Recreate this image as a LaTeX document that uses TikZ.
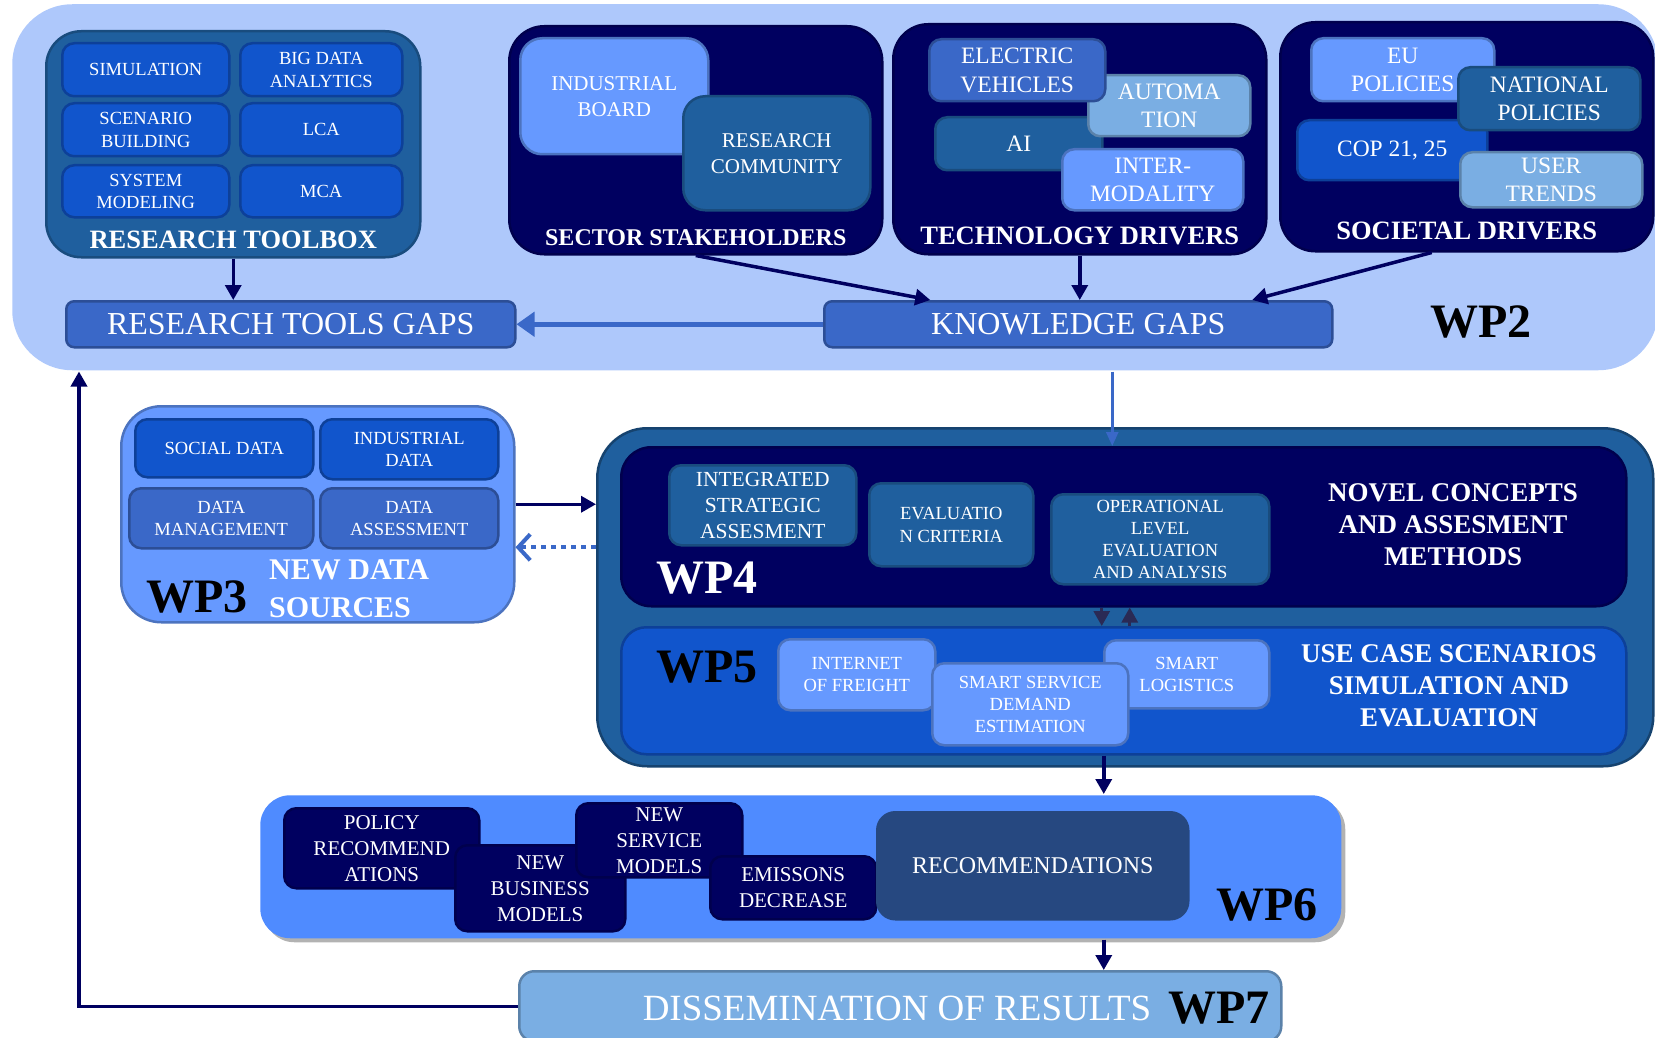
\documentclass[tikz,border=0pt]{standalone}
\usepackage{fontspec}
\setmainfont{Liberation Serif}
\usetikzlibrary{positioning,arrows.meta,shadows}

\definecolor{wptwo}{RGB}{174,200,251}
\definecolor{steel}{RGB}{31,95,158}
\definecolor{royal}{RGB}{17,85,204}
\definecolor{navy}{RGB}{0,0,96}
\definecolor{midblue}{RGB}{58,104,200}
\definecolor{lightblue}{RGB}{102,153,255}
\definecolor{skyblue}{RGB}{122,174,227}
\definecolor{wpsix}{RGB}{79,139,255}
\definecolor{recomblue}{RGB}{38,72,128}
\definecolor{slate}{RGB}{42,42,85}

\begin{document}
\begin{tikzpicture}[x=1pt, y=-1pt, node distance=2pt,
    box/.style={rectangle, rounded corners=12pt, line width=2.5pt, text=white, align=center, inner sep=0pt, anchor=north west},
    steelbox/.style={box, fill=steel, draw=steel!80!black},
    royalbox/.style={box, fill=royal, draw=royal!75!black},
    navybox/.style={box, fill=navy, draw=navy!80!black},
    midbox/.style={box, fill=midblue, draw=midblue!75!black},
    lightbox/.style={box, fill=lightblue, draw=lightblue!75!black},
    skybox/.style={box, fill=skyblue, draw=skyblue!75!black},
    fsmall/.style={font=\fontsize{18.5}{22.5}\selectfont},
    fmid/.style={font=\fontsize{21}{26}\selectfont},
    fbig/.style={font=\fontsize{23.5}{28.5}\selectfont},
    grouplabel/.style={text=white, align=center, inner sep=0pt, font=\fontsize{26.5}{32}\selectfont\bfseries},
    wplabel/.style={inner sep=0pt, font=\fontsize{48}{48}\selectfont\bfseries},
    arr/.style={draw=navy, line width=3.5pt, -{Triangle[length=15pt,width=16pt]}}]
    \useasboundingbox (0,0) rectangle (1655,1038);
    \clip (0,0) rectangle (1655,1038);
    \fill[white] (0,0) rectangle (1655,1038);

    % WP2
    \node[box, fill=wptwo, draw=none, rounded corners=60pt, minimum width=1646, minimum height=366] (wp2) at (11,3) {};
    \node[steelbox, rounded corners=35pt, minimum width=374, minimum height=226] (toolbox) at (45,30) {};
    \node[royalbox, fsmall, minimum width=167, minimum height=53] (simulation) at (61,42) {SIMULATION};
    \node[royalbox, fsmall, minimum width=162, minimum height=53] (bigdata) at (239,42) {BIG DATA\\ANALYTICS};
    \node[royalbox, fsmall, minimum width=167, minimum height=53] (scenario) at (61,102) {SCENARIO\\BUILDING};
    \node[royalbox, fsmall, minimum width=162, minimum height=53] (lca) at (239,102) {LCA};
    \node[royalbox, fsmall, minimum width=167, minimum height=52] (sysmodel) at (61,164) {SYSTEM\\MODELING};
    \node[royalbox, fsmall, minimum width=162, minimum height=52] (mca) at (239,164) {MCA};
    \node[grouplabel, above=10pt of toolbox.south] (toolboxlbl) {RESEARCH TOOLBOX};

    \node[navybox, rounded corners=35pt, minimum width=373, minimum height=228] (sector) at (508,25) {};
    \node[lightbox, fmid, rounded corners=22pt, minimum width=188, minimum height=116] (indboard) at (519,37) {INDUSTRIAL\\BOARD};
    \node[steelbox, fmid, rounded corners=22pt, minimum width=187, minimum height=114] (rescomm) at (682,95) {RESEARCH\\COMMUNITY};
    \node[grouplabel, font=\fontsize{24}{28}\selectfont\bfseries, above=10pt of sector.south] (sectorlbl) {SECTOR STAKEHOLDERS};

    \node[navybox, rounded corners=35pt, minimum width=373, minimum height=230] (tech) at (892,23) {};
    \node[steelbox, fbig, minimum width=167, minimum height=53] (ai) at (934,116) {AI};
    \node[skybox, fbig, minimum width=162, minimum height=61] (automation) at (1087,74) {AUTOMA\\TION};
    \node[midbox, fbig, minimum width=176, minimum height=62] (electric) at (928,38) {ELECTRIC\\VEHICLES};
    \node[lightbox, fbig, minimum width=181, minimum height=61] (intermodal) at (1061,148) {INTER-\\MODALITY};
    \node[grouplabel, above=10pt of tech.south] (techlbl) {TECHNOLOGY DRIVERS};

    \node[navybox, rounded corners=35pt, minimum width=373, minimum height=229] (soc) at (1279,21) {};
    \node[lightbox, fbig, minimum width=183, minimum height=63] (eupol) at (1310,37) {EU\\POLICIES};
    \node[royalbox, fbig, minimum width=190, minimum height=60] (cop) at (1296,119) {COP 21, 25};
    \node[steelbox, fbig, minimum width=182, minimum height=63] (natpol) at (1457,66) {NATIONAL\\POLICIES};
    \node[skybox, fbig, minimum width=182, minimum height=55] (usertrends) at (1459,151) {USER\\TRENDS};
    \node[grouplabel, above=12pt of soc.south] (soclbl) {SOCIETAL DRIVERS};

    \node[midbox, rounded corners=8pt, font=\fontsize{32}{32}\selectfont, minimum width=449, minimum height=46] (rtg) at (65,300) {RESEARCH TOOLS GAPS};
    \node[midbox, rounded corners=8pt, font=\fontsize{32}{32}\selectfont, minimum width=508, minimum height=46] (kg) at (823,300) {KNOWLEDGE GAPS};
    \node[wplabel] (wp2lbl) at (1481,322) {WP2};

    % WP3
    \node[lightbox, rounded corners=40pt, minimum width=393, minimum height=216] (wp3) at (120,405) {};
    \node[royalbox, fsmall, minimum width=178, minimum height=58] (socdata) at (134,418) {SOCIAL DATA};
    \node[royalbox, fsmall, minimum width=178, minimum height=60] (inddata) at (319,418) {INDUSTRIAL\\DATA};
    \node[midbox, fsmall, minimum width=184, minimum height=60] (datamgmt) at (128,487) {DATA\\MANAGEMENT};
    \node[midbox, fsmall, minimum width=178, minimum height=60] (dataassess) at (319,487) {DATA\\ASSESSMENT};
    \node[wplabel] (wp3lbl) at (197,597) {WP3};
    \node[grouplabel, align=left, anchor=west, font=\fontsize{30}{38}\selectfont\bfseries] (newdata) at (269,589) {NEW DATA\\SOURCES};

    % WP4 and WP5
    \node[steelbox, draw=steel!70!black, rounded corners=50pt, minimum width=1056, minimum height=338] (wp45) at (596,427) {};
    \node[navybox, rounded corners=30pt, minimum width=1005, minimum height=159] (wp4) at (620,446) {};
    \node[steelbox, font=\fontsize{21.5}{26}\selectfont, minimum width=187, minimum height=80] (integrated) at (668,464) {INTEGRATED\\STRATEGIC\\ASSESMENT};
    \node[steelbox, fsmall, minimum width=164, minimum height=83] (evalcrit) at (868,482) {EVALUATIO\\N CRITERIA};
    \node[steelbox, font=\fontsize{18.5}{22}\selectfont, minimum width=218, minimum height=90] (operational) at (1050,493) {OPERATIONAL\\LEVEL\\EVALUATION\\AND ANALYSIS};
    \node[grouplabel, font=\fontsize{27}{32}\selectfont\bfseries] (novel) at (1453,525) {NOVEL CONCEPTS\\AND ASSESMENT\\METHODS};
    \node[wplabel, text=white] (wp4lbl) at (707,578) {WP4};

    \node[royalbox, rounded corners=25pt, minimum width=1005, minimum height=127] (wp5) at (620,626) {};
    \node[lightbox, font=\fontsize{18.5}{22}\selectfont, minimum width=157, minimum height=71] (freight) at (777,638) {INTERNET\\OF FREIGHT};
    \node[lightbox, font=\fontsize{18.5}{22}\selectfont, minimum width=165, minimum height=68] (logistics) at (1103,639) {SMART\\LOGISTICS};
    \node[lightbox, font=\fontsize{18.5}{22}\selectfont, minimum width=196, minimum height=82] (service) at (931,662) {SMART SERVICE\\DEMAND\\ESTIMATION};
    \node[grouplabel, font=\fontsize{27}{32}\selectfont\bfseries] (usecase) at (1449,686) {USE CASE SCENARIOS\\SIMULATION AND\\EVALUATION};
    \node[wplabel] (wp5lbl) at (707,667) {WP5};

    % WP6
    \node[box, fill=wpsix, draw=none, rounded corners=30pt, minimum width=1081, minimum height=143,
          drop shadow={shadow xshift=4pt, shadow yshift=-4pt, opacity=0.6}] (wp6) at (259,794) {};
    \node[navybox, fmid, minimum width=195, minimum height=80] (policyrec) at (283,807) {POLICY\\RECOMMEND\\ATIONS};
    \node[navybox, fmid, minimum width=170, minimum height=86] (business) at (454,844) {NEW\\BUSINESS\\MODELS};
    \node[navybox, fmid, minimum width=166, minimum height=74] (servicemod) at (575,802) {NEW\\SERVICE\\MODELS};
    \node[navybox, fmid, minimum width=166, minimum height=63] (emissions) at (709,855) {EMISSONS\\DECREASE};
    \node[box, fill=recomblue, draw=recomblue, font=\fontsize{24}{24}\selectfont, rounded corners=18pt, minimum width=311, minimum height=107] (recom) at (876,811) {RECOMMENDATIONS};
    \node[wplabel] (wp6lbl) at (1267,905) {WP6};

    % WP7
    \node[skybox, rounded corners=15pt, minimum width=762, minimum height=70] (wp7) at (518,970) {};
    \node[text=white, inner sep=0pt, font=\fontsize{37}{37}\selectfont] (dissem) at (897,1008) {DISSEMINATION OF RESULTS};
    \node[wplabel] (wp7lbl) at (1219,1008) {WP7};

    % Arrows
    \draw[arr] (toolbox.south) -- (toolbox.south |- rtg.north);
    \draw[arr] (sector.south) -- ([xshift=-148]kg.north);
    \draw[arr] (tech.south) -- (tech.south |- kg.north);
    \draw[arr] ([xshift=-35]soc.south) -- ([xshift=174]kg.north);
    \draw[draw=midblue, line width=5pt, -{Triangle[length=18pt,width=24pt]}] (kg.west) -- (rtg.east);
    \draw[draw=midblue, line width=2.5pt, -{Triangle[length=14pt,width=12pt]}] ([xshift=34]kg.south |- wp2.south) -- ([xshift=34]kg.south |- wp4.north);
    \draw[arr] ([yshift=10]wp3.east) -- ([yshift=10]wp3.east -| wp45.west);
    \draw[draw=midblue, line width=4pt, dash pattern=on 5pt off 5pt, -{Straight Barb[length=12pt,width=26pt]}] ([yshift=-33]wp3.east -| wp45.west) -- ([yshift=-33]wp3.east);
    \draw[arr, draw=slate, line width=3pt] ([xshift=-22]wp4.south) -- ([xshift=-22]wp4.south |- wp5.north);
    \draw[arr, draw=slate, line width=3pt] ([xshift=6]wp4.south |- wp5.north) -- ([xshift=6]wp4.south);
    \draw[arr] ([xshift=-20]wp5.south) -- ([xshift=-20]wp5.south |- wp6.north);
    \draw[arr] ([xshift=-20]wp5.south |- wp6.south) -- ([xshift=-20]wp5.south |- wp7.north);
    \draw[arr] (wp7.west) -| ([xshift=68]wp2.south west);
\end{tikzpicture}
\end{document}
